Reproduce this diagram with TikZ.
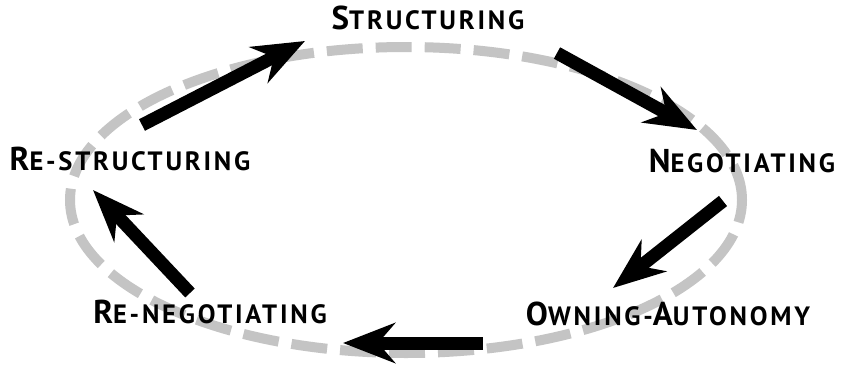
\documentclass[tikz,border=0pt]{standalone}
\usepackage{fontspec}
\setmainfont{PT Sans}
\usetikzlibrary{arrows.meta}
\newcommand\capL[1]{{\fontsize{33}{33}\selectfont #1}}
\newcommand\capS[1]{{\fontsize{26.5}{26.5}\selectfont #1}}
\tikzset{
  lbl/.style={inner sep=0pt, anchor=base, font=\bfseries\addfontfeature{LetterSpace=10.5}},
  bigarrow/.style={line width=13pt, black, -{Stealth[length=52pt, width=40pt, inset=17pt]}},
  ring/.style={line width=10pt, color=black!23, dash pattern=on 36pt off 13pt}
}
\begin{document}
\begin{tikzpicture}[x=1pt, y=-1pt]
\useasboundingbox (0,0) rectangle (843,375);
\fill[white] (0,0) rectangle (843,375);
\draw[ring] (406,200) ellipse [x radius=336pt, y radius=153pt];
\node[lbl] (s)  at (428,29)  {\capL{S}\capS{TRUCTURING}};
\node[lbl] (n)  at (742,172) {\capL{N}\capS{EGOTIATING}};
\node[lbl] (o)  at (668,325) {\capL{O}\capS{WNING-}\capL{A}\capS{UTONOMY}};
\node[lbl] (rn) at (210,323) {\capL{R}\capS{E-NEGOTIATING}};
\node[lbl] (rs) at (130,170) {\capL{R}\capS{E-STRUCTURING}};
\coordinate (a1s) at (142,125);
\coordinate (a1e) at (305,41);
\coordinate (a2s) at (557,53);
\coordinate (a2e) at (697,130);
\coordinate (a3s) at (723,201);
\coordinate (a3e) at (613,288);
\coordinate (a4s) at (483,343);
\coordinate (a4e) at (343,343);
\coordinate (a5s) at (190,293);
\coordinate (a5e) at (93,190);
\draw[bigarrow] (a1s) -- (a1e);
\draw[bigarrow] (a2s) -- (a2e);
\draw[bigarrow] (a3s) -- (a3e);
\draw[bigarrow] (a4s) -- (a4e);
\draw[bigarrow] (a5s) -- (a5e);
\end{tikzpicture}
\end{document}
